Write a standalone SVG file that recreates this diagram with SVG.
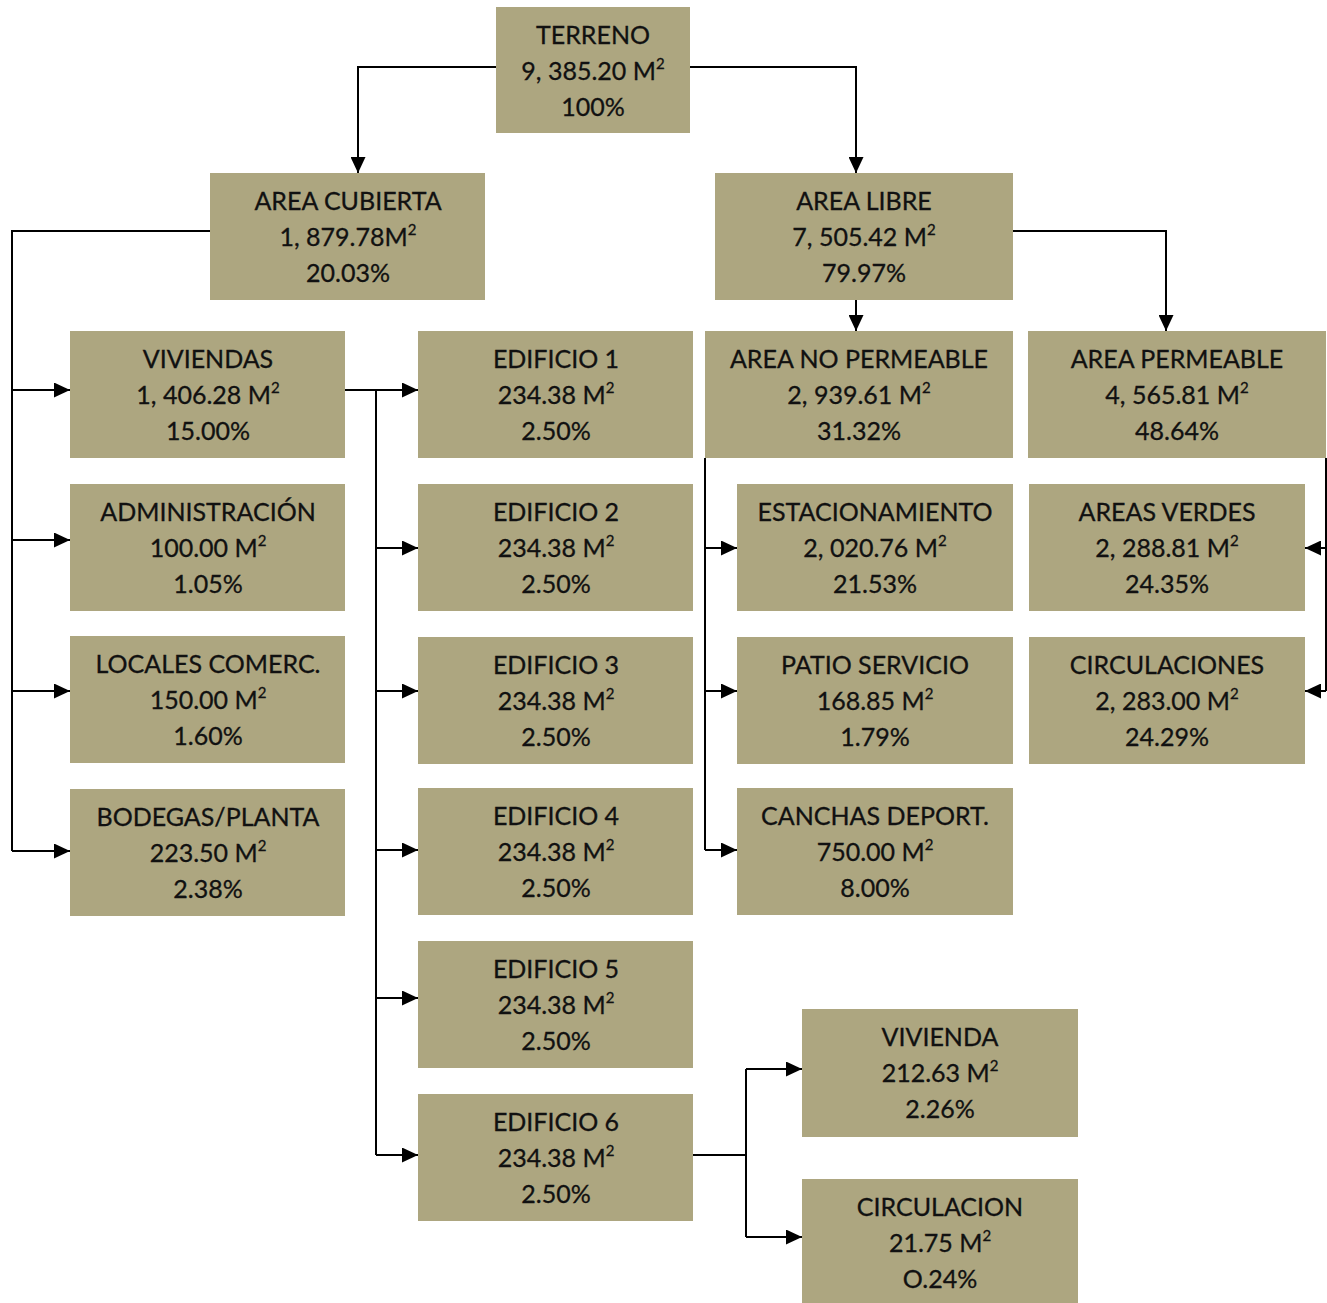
<svg xmlns="http://www.w3.org/2000/svg" width="1327" height="1303" viewBox="0 0 1327 1303">
  <style>
    .box { fill: #ada680; }
    .lbl { font-family: Lato, "Open Sans", "Liberation Sans", sans-serif; font-size: 25px; fill: #111; text-anchor: middle; stroke: #111; stroke-width: 0.3; }
    .sup { font-size: 15px; }
    .wire { fill: none; stroke: #000; stroke-width: 2; }
  </style>
  <defs>
    <marker id="arrow" markerUnits="userSpaceOnUse" markerWidth="17" markerHeight="15" refX="16" refY="7.5" orient="auto">
      <path d="M0,0 L16,7.5 L0,15 z" fill="#000"/>
    </marker>
  </defs>
  <rect width="1327" height="1303" fill="#fff"/>

  <!-- connectors -->
  <g id="connectors" class="wire">
    <path d="M496,67 H358 V173" marker-end="url(#arrow)"/>
    <path d="M690,67 H856 V173" marker-end="url(#arrow)"/>
    <!-- area cubierta branches -->
    <path d="M210,231 H12 V851"/>
    <path d="M12,390 H70" marker-end="url(#arrow)"/>
    <path d="M12,540 H70" marker-end="url(#arrow)"/>
    <path d="M12,691 H70" marker-end="url(#arrow)"/>
    <path d="M12,851 H70" marker-end="url(#arrow)"/>
    <!-- area libre branches -->
    <path d="M856,300 V331" marker-end="url(#arrow)"/>
    <path d="M1013,231 H1166 V331" marker-end="url(#arrow)"/>
    <!-- viviendas to edificios -->
    <path d="M345,390 H418" marker-end="url(#arrow)"/>
    <path d="M376,390 V1155"/>
    <path d="M376,548 H418" marker-end="url(#arrow)"/>
    <path d="M376,691 H418" marker-end="url(#arrow)"/>
    <path d="M376,850 H418" marker-end="url(#arrow)"/>
    <path d="M376,998 H418" marker-end="url(#arrow)"/>
    <path d="M376,1155 H418" marker-end="url(#arrow)"/>
    <!-- area no permeable -->
    <path d="M705,458 V850"/>
    <path d="M705,548 H737" marker-end="url(#arrow)"/>
    <path d="M705,691 H737" marker-end="url(#arrow)"/>
    <path d="M705,850 H737" marker-end="url(#arrow)"/>
    <!-- area permeable -->
    <path d="M1326,458 V691"/>
    <path d="M1326,548 H1305" marker-end="url(#arrow)"/>
    <path d="M1326,691 H1305" marker-end="url(#arrow)"/>
    <!-- edificio 6 -->
    <path d="M690,1155 H746"/>
    <path d="M746,1069 V1237"/>
    <path d="M746,1069 H802" marker-end="url(#arrow)"/>
    <path d="M746,1237 H802" marker-end="url(#arrow)"/>
  </g>

  <!-- nodes -->
  <g id="terreno">
    <rect class="box" x="496" y="7" width="194" height="126"/>
    <text class="lbl"><tspan x="593" y="44">TERRENO</tspan><tspan x="593" y="80">9, 385.20 M<tspan class="sup" dy="-11">2</tspan></tspan><tspan x="593" y="116">100%</tspan></text>
  </g>
  <g id="area-cubierta">
    <rect class="box" x="210" y="173" width="275" height="127"/>
    <text class="lbl"><tspan x="348" y="210">AREA CUBIERTA</tspan><tspan x="348" y="246">1, 879.78M<tspan class="sup" dy="-11">2</tspan></tspan><tspan x="348" y="282">20.03%</tspan></text>
  </g>
  <g id="area-libre">
    <rect class="box" x="715" y="173" width="298" height="127"/>
    <text class="lbl"><tspan x="864" y="210">AREA LIBRE</tspan><tspan x="864" y="246">7, 505.42 M<tspan class="sup" dy="-11">2</tspan></tspan><tspan x="864" y="282">79.97%</tspan></text>
  </g>
  <g id="viviendas">
    <rect class="box" x="70" y="331" width="275" height="127"/>
    <text class="lbl"><tspan x="208" y="368">VIVIENDAS</tspan><tspan x="208" y="404">1, 406.28 M<tspan class="sup" dy="-11">2</tspan></tspan><tspan x="208" y="440">15.00%</tspan></text>
  </g>
  <g id="administracion">
    <rect class="box" x="70" y="484" width="275" height="127"/>
    <text class="lbl"><tspan x="208" y="521">ADMINISTRACIÓN</tspan><tspan x="208" y="557">100.00 M<tspan class="sup" dy="-11">2</tspan></tspan><tspan x="208" y="593">1.05%</tspan></text>
  </g>
  <g id="locales">
    <rect class="box" x="70" y="636" width="275" height="127"/>
    <text class="lbl"><tspan x="208" y="673">LOCALES COMERC.</tspan><tspan x="208" y="709">150.00 M<tspan class="sup" dy="-11">2</tspan></tspan><tspan x="208" y="745">1.60%</tspan></text>
  </g>
  <g id="bodegas">
    <rect class="box" x="70" y="789" width="275" height="127"/>
    <text class="lbl"><tspan x="208" y="826">BODEGAS/PLANTA</tspan><tspan x="208" y="862">223.50 M<tspan class="sup" dy="-11">2</tspan></tspan><tspan x="208" y="898">2.38%</tspan></text>
  </g>
  <g id="edificio-1">
    <rect class="box" x="418" y="331" width="275" height="127"/>
    <text class="lbl"><tspan x="556" y="368">EDIFICIO 1</tspan><tspan x="556" y="404">234.38 M<tspan class="sup" dy="-11">2</tspan></tspan><tspan x="556" y="440">2.50%</tspan></text>
  </g>
  <g id="edificio-2">
    <rect class="box" x="418" y="484" width="275" height="127"/>
    <text class="lbl"><tspan x="556" y="521">EDIFICIO 2</tspan><tspan x="556" y="557">234.38 M<tspan class="sup" dy="-11">2</tspan></tspan><tspan x="556" y="593">2.50%</tspan></text>
  </g>
  <g id="edificio-3">
    <rect class="box" x="418" y="637" width="275" height="127"/>
    <text class="lbl"><tspan x="556" y="674">EDIFICIO 3</tspan><tspan x="556" y="710">234.38 M<tspan class="sup" dy="-11">2</tspan></tspan><tspan x="556" y="746">2.50%</tspan></text>
  </g>
  <g id="edificio-4">
    <rect class="box" x="418" y="788" width="275" height="127"/>
    <text class="lbl"><tspan x="556" y="825">EDIFICIO 4</tspan><tspan x="556" y="861">234.38 M<tspan class="sup" dy="-11">2</tspan></tspan><tspan x="556" y="897">2.50%</tspan></text>
  </g>
  <g id="edificio-5">
    <rect class="box" x="418" y="941" width="275" height="127"/>
    <text class="lbl"><tspan x="556" y="978">EDIFICIO 5</tspan><tspan x="556" y="1014">234.38 M<tspan class="sup" dy="-11">2</tspan></tspan><tspan x="556" y="1050">2.50%</tspan></text>
  </g>
  <g id="edificio-6">
    <rect class="box" x="418" y="1094" width="275" height="127"/>
    <text class="lbl"><tspan x="556" y="1131">EDIFICIO 6</tspan><tspan x="556" y="1167">234.38 M<tspan class="sup" dy="-11">2</tspan></tspan><tspan x="556" y="1203">2.50%</tspan></text>
  </g>
  <g id="area-no-permeable">
    <rect class="box" x="705" y="331" width="308" height="127"/>
    <text class="lbl"><tspan x="859" y="368">AREA NO PERMEABLE</tspan><tspan x="859" y="404">2, 939.61 M<tspan class="sup" dy="-11">2</tspan></tspan><tspan x="859" y="440">31.32%</tspan></text>
  </g>
  <g id="area-permeable">
    <rect class="box" x="1028" y="331" width="298" height="127"/>
    <text class="lbl"><tspan x="1177" y="368">AREA PERMEABLE</tspan><tspan x="1177" y="404">4, 565.81 M<tspan class="sup" dy="-11">2</tspan></tspan><tspan x="1177" y="440">48.64%</tspan></text>
  </g>
  <g id="estacionamiento">
    <rect class="box" x="737" y="484" width="276" height="127"/>
    <text class="lbl"><tspan x="875" y="521">ESTACIONAMIENTO</tspan><tspan x="875" y="557">2, 020.76 M<tspan class="sup" dy="-11">2</tspan></tspan><tspan x="875" y="593">21.53%</tspan></text>
  </g>
  <g id="patio-servicio">
    <rect class="box" x="737" y="637" width="276" height="127"/>
    <text class="lbl"><tspan x="875" y="674">PATIO SERVICIO</tspan><tspan x="875" y="710">168.85 M<tspan class="sup" dy="-11">2</tspan></tspan><tspan x="875" y="746">1.79%</tspan></text>
  </g>
  <g id="canchas">
    <rect class="box" x="737" y="788" width="276" height="127"/>
    <text class="lbl"><tspan x="875" y="825">CANCHAS DEPORT.</tspan><tspan x="875" y="861">750.00 M<tspan class="sup" dy="-11">2</tspan></tspan><tspan x="875" y="897">8.00%</tspan></text>
  </g>
  <g id="areas-verdes">
    <rect class="box" x="1029" y="484" width="276" height="127"/>
    <text class="lbl"><tspan x="1167" y="521">AREAS VERDES</tspan><tspan x="1167" y="557">2, 288.81 M<tspan class="sup" dy="-11">2</tspan></tspan><tspan x="1167" y="593">24.35%</tspan></text>
  </g>
  <g id="circulaciones">
    <rect class="box" x="1029" y="637" width="276" height="127"/>
    <text class="lbl"><tspan x="1167" y="674">CIRCULACIONES</tspan><tspan x="1167" y="710">2, 283.00 M<tspan class="sup" dy="-11">2</tspan></tspan><tspan x="1167" y="746">24.29%</tspan></text>
  </g>
  <g id="vivienda">
    <rect class="box" x="802" y="1009" width="276" height="128"/>
    <text class="lbl"><tspan x="940" y="1046">VIVIENDA</tspan><tspan x="940" y="1082">212.63 M<tspan class="sup" dy="-11">2</tspan></tspan><tspan x="940" y="1118">2.26%</tspan></text>
  </g>
  <g id="circulacion">
    <rect class="box" x="802" y="1179" width="276" height="124"/>
    <text class="lbl"><tspan x="940" y="1216">CIRCULACION</tspan><tspan x="940" y="1252">21.75 M<tspan class="sup" dy="-11">2</tspan></tspan><tspan x="940" y="1288">O.24%</tspan></text>
  </g>
</svg>
